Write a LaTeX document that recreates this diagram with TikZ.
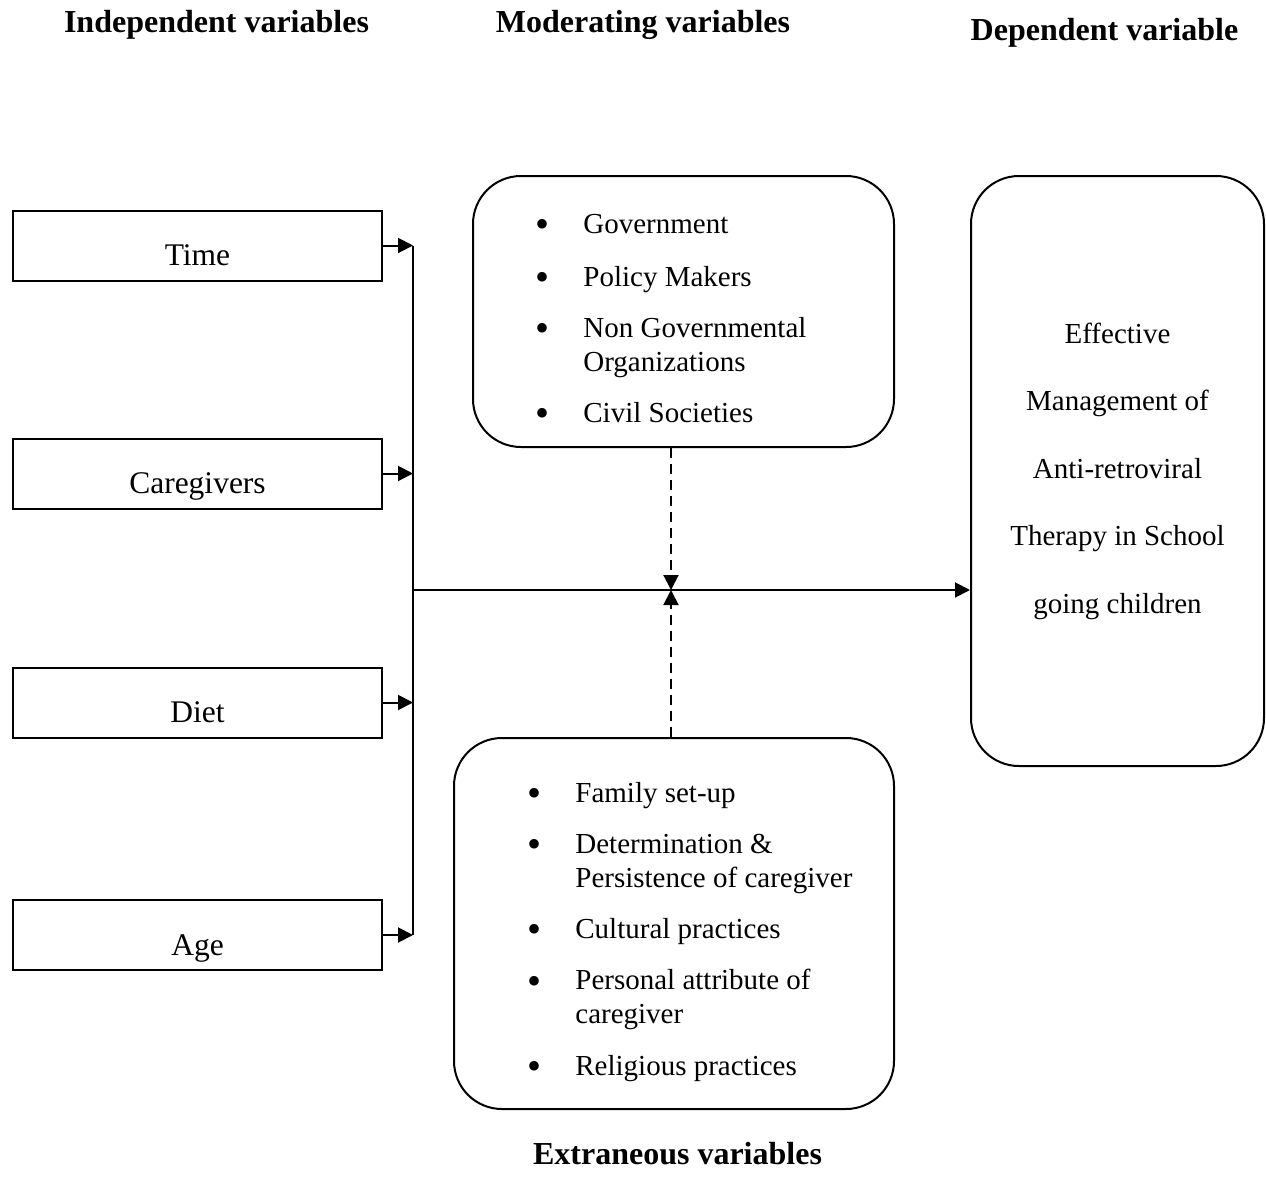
\documentclass[tikz,border=0pt]{standalone}
\usepackage{fontspec}
\setmainfont{Liberation Serif}
\usepackage{tikz}
\usetikzlibrary{arrows.meta}

\tikzset{
  ivbox/.style={draw, line width=1pt, minimum width=184.5pt, minimum height=35pt, inner sep=0pt},
  ivtext/.style={font=\fontsize{15.75}{19}\selectfont, inner sep=0pt, anchor=base},
  roundbox/.style={draw, line width=1pt, rounded corners=24pt, inner sep=0pt},
  itemtext/.style={font=\fontsize{14.5}{17}\selectfont, inner sep=0pt, anchor=base west, align=left},
  dottext/.style={font=\fontsize{20}{20}\selectfont, inner sep=0pt, anchor=base},
  heading/.style={font=\fontsize{16}{19}\selectfont\bfseries, inner sep=0pt, anchor=base},
  flow/.style={-{Triangle[length=7.5pt,width=7.5pt]}, line width=1pt}
}

\begin{document}
\begin{tikzpicture}[x=0.5pt, y=-0.5pt]
  \useasboundingbox (0,0) rectangle (1266,1195);
  % headings
  \node[heading] (ivhead) at (216.5,32) {Independent variables};
  \node[heading] (modhead) at (643,32) {Moderating variables};
  \node[heading] (dephead) at (1104.5,40) {Dependent variable};
  \node[heading] (exthead) at (677.5,1164) {Extraneous variables};
  % independent variables
  \node[ivbox] (time) at (197.5,245.5) {};
  \node[ivtext] (timetxt) at ([yshift=8pt]time.south) {Time};
  \node[ivbox] (care) at (197.5,473.5) {};
  \node[ivtext] (caretxt) at ([yshift=8pt]care.south) {Caregivers};
  \node[ivbox] (diet) at (197.5,702.5) {};
  \node[ivtext] (diettxt) at ([yshift=8pt]diet.south) {Diet};
  \node[ivbox] (age) at (197.5,935) {};
  \node[ivtext] (agetxt) at ([yshift=8pt]age.south) {Age};
  % moderating variables
  \node[roundbox, minimum width=210.5pt, minimum height=135.5pt] (mod) at (683.5,311.5) {};
  \foreach \by/\ty/\txt [count=\i] in {233/233/Government, 286/286/Policy Makers,
      337/371/{Non Governmental\\Organizations}, 422/422/Civil Societies}
  {
    \node[dottext] (modbul\i) at (542,\by+4) {\textbullet};
    \node[itemtext] (moditem\i) at (583,\ty) {\txt};
  }
  % extraneous variables
  \node[roundbox, minimum width=220pt, minimum height=185.5pt] (ext) at (674,923.5) {};
  \foreach \by/\ty/\txt [count=\i] in {802/802/Family set-up,
      853/887/{Determination \&\\Persistence of caregiver}, 938/938/Cultural practices,
      990/1023/{Personal attribute of\\caregiver}, 1075/1075/Religious practices}
  {
    \node[dottext] (extbul\i) at (534,\by+4) {\textbullet};
    \node[itemtext] (extitem\i) at (575,\ty) {\txt};
  }
  % dependent variable
  \node[roundbox, minimum width=146.5pt, minimum height=295pt, align=center,
    font=\fontsize{14.5}{33.75}\selectfont] (dep) at (1117.5,471)
    {Effective\\Management of\\Anti-retroviral\\Therapy in School\\going children};
  % connectors
  \coordinate (trunk) at (413,590);
  \coordinate (meet) at (671,590);
  \draw[line width=1pt] (time.east -| trunk) -- (age.east -| trunk);
  \foreach \b in {time, care, diet, age}
    \draw[flow] (\b.east) -- (\b.east -| trunk);
  \draw[flow] (trunk) -- (trunk -| dep.west);
  \draw[flow, dashed, dash pattern=on 5pt off 3pt] (meet |- mod.south) -- (meet);
  \draw[flow, dashed, dash pattern=on 5pt off 3pt] (meet |- ext.north) -- (meet);
\end{tikzpicture}
\end{document}
